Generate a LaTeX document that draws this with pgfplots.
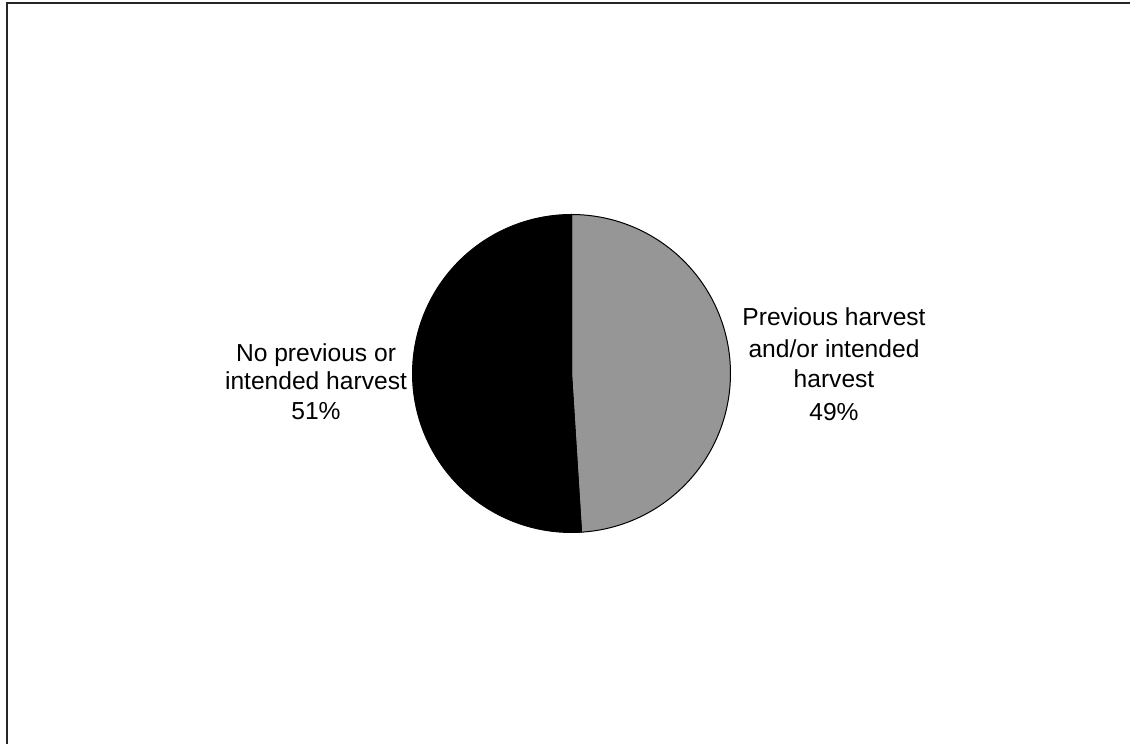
\documentclass[border=0pt]{standalone}
\usepackage{pgfplots}
\pgfplotsset{compat=1.18}
\usepackage{pgfplotstable}
\usepackage{fontspec}
\setmainfont{Liberation Sans}
\definecolor{pieGrey}{RGB}{150,150,150}

\pgfplotstableread{
share
49
51
}\piedata

\begin{document}
\begin{tikzpicture}
\useasboundingbox (0pt,0pt) rectangle (565pt,372pt);
\draw[line width=0.6pt, black!85] (3.5pt,0pt) -- (3.5pt,370.5pt) -- (565pt,370.5pt);
\pgfplotstablegetelem{0}{share}\of\piedata \let\shareA\pgfplotsretval
\pgfmathsetmacro{\angA}{90-3.6*\shareA}
\pgfmathsetmacro{\angB}{\angA+360}
\begin{axis}[
  x=79.5pt, y=79.5pt,
  xmin=-1, xmax=1, ymin=-1, ymax=1,
  hide axis, clip=false,
  at={(285.75pt,185.25pt)}, anchor=center,
]
\addplot[fill=pieGrey, draw=black, line width=0.5pt, domain=\angA:90, samples=120]
  ({cos(x)},{sin(x)}) -- (axis cs:0,0) -- cycle;
\addplot[fill=black, draw=black, line width=0.5pt, domain=90:\angB, samples=120]
  ({cos(x)},{sin(x)}) -- (axis cs:0,0) -- cycle;
\end{axis}
\begin{scope}[every node/.style={anchor=base, inner sep=0pt, font=\fontsize{12.3pt}{15pt}\selectfont}]
\node at (417pt,209pt) {Previous harvest};
\node at (417pt,193pt) {and/or intended};
\node at (417pt,178pt) {harvest};
\node at (417pt,161.5pt) {49\%};
\node at (158pt,191pt) {No previous or};
\node at (158pt,177pt) {intended harvest};
\node at (158pt,162pt) {51\%};
\end{scope}
\end{tikzpicture}
\end{document}
